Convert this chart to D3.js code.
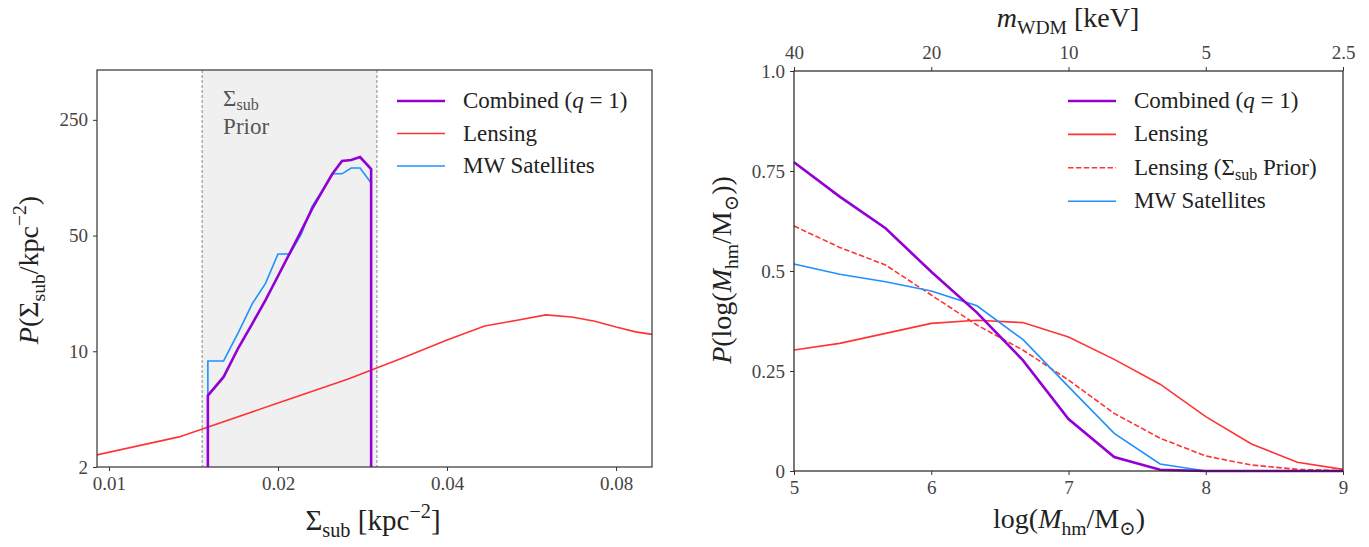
<!DOCTYPE html>
<html><head><meta charset="utf-8">
<script src="https://cdn.jsdelivr.net/npm/d3@7"></script>
<style>
body{margin:0;background:#fff}
text{font-family:"Liberation Serif","DejaVu Serif",serif;white-space:pre}
</style>
</head><body>
<svg id="c" width="1369" height="547"></svg>
<script>
// ---------------- DATA ----------------
// Left panel: P(Sigma_sub)
const priorRange = [0.01465, 0.0300];
const lensSigma = [0.00667, 0.01333, 0.02, 0.02667, 0.03333, 0.04, 0.04667, 0.05333, 0.06, 0.06667, 0.07333, 0.08, 0.08667, 0.09333];
const lensP     = [1.82, 3.04, 4.87, 6.8, 9.1, 11.7, 14.2, 15.4, 16.6, 16.1, 15.2, 14.0, 13.1, 12.6];
const satSigma  = [0.015, 0.016, 0.017, 0.018, 0.019, 0.020, 0.021, 0.022, 0.023, 0.024, 0.025, 0.026, 0.027, 0.028, 0.0293];
const satP      = [8.74, 8.74, 13.0, 19.4, 25.7, 38.7, 38.7, 51, 75, 94, 118, 118, 128, 128, 104];
const combSigma = [0.015, 0.016, 0.017, 0.018, 0.019, 0.020, 0.021, 0.022, 0.023, 0.024, 0.025, 0.026, 0.027, 0.028, 0.0293];
const combP     = [5.4, 7.0, 10.5, 14.7, 20.4, 28.5, 39.3, 53.3, 72.4, 93, 118, 141, 143, 149, 126];
const leftXTicks = [0.01, 0.02, 0.04, 0.08];
const leftYTicks = [2, 10, 50, 250];

// Right panel: P(log M_hm)
const logMhm      = [5, 5.333, 5.667, 6, 6.333, 6.667, 7, 7.333, 7.667, 8, 8.333, 8.667, 9];
const pCombined   = [0.772, 0.686, 0.607, 0.498, 0.396, 0.277, 0.130, 0.035, 0.003, 0.0, 0.0, 0.0, 0.0];
const pLensing    = [0.3025, 0.319, 0.344, 0.369, 0.377, 0.371, 0.335, 0.279, 0.217, 0.136, 0.0675, 0.022, 0.004];
const pLensPrior  = [0.6125, 0.559, 0.515, 0.44, 0.365, 0.3025, 0.2275, 0.144, 0.082, 0.0375, 0.015, 0.004, 0.001];
const pSatellites = [0.5175, 0.4917, 0.473, 0.45, 0.413, 0.329, 0.211, 0.094, 0.0175, 0.0, 0.0, 0.0, 0.0];
const rightXTicks = [5, 6, 7, 8, 9];
const rightYTicks = [0, 0.25, 0.5, 0.75, 1.0];
const rightYLabels = ["0", "0.25", "0.5", "0.75", "1.0"];
const mWdmTicks = [40, 20, 10, 5, 2.5];

// ---------------- STYLE ----------------
const C_PURPLE = "#9400d3", C_RED = "#ff3333", C_BLUE = "#1e90ff";
const FONT = '"Liberation Serif","DejaVu Serif",serif';
const svg = d3.select("#c");

// parts: strings or {t, i, sub, sup}
function mathText(g, parts, size, subShift) {
  const t = g.append("text").attr("font-size", size).attr("font-family", FONT);
  const ss = subShift == null ? 0.24 : subShift;
  let off = 0;
  parts.forEach(p => {
    const o = typeof p === "string" ? {t: p} : p;
    let target = 0, fs = size;
    if (o.sub) { target = size * ss; fs = size * 0.7; }
    if (o.sup) { target = -size * 0.42; fs = size * 0.7; }
    const ts = t.append("tspan").text(o.t).attr("font-size", fs).attr("dy", target - off);
    if (o.i) ts.attr("font-style", "italic");
    off = target;
  });
  return t;
}

function styleAxis(g) {
  g.select(".domain").remove();
  g.selectAll(".tick line").attr("stroke", "#333").attr("stroke-width", 1);
  g.selectAll(".tick text").attr("fill", "#444").attr("font-size", 19).attr("font-family", FONT);
}

// ---------------- LEFT PANEL ----------------
const L = {x0: 97, x1: 652, y0: 467, y1: 70};
const xL = d3.scaleLog().domain([0.00952, 0.0927]).range([L.x0, L.x1]);
const yL = d3.scaleLog().domain([2, 500]).range([L.y0, L.y1]);
const gL = svg.append("g");

svg.append("clipPath").attr("id", "clipL").append("rect")
  .attr("x", L.x0).attr("y", L.y1).attr("width", L.x1 - L.x0).attr("height", L.y0 - L.y1);

gL.append("rect").attr("x", xL(priorRange[0])).attr("y", L.y1)
  .attr("width", xL(priorRange[1]) - xL(priorRange[0])).attr("height", L.y0 - L.y1)
  .attr("fill", "#f0f0f0");
priorRange.forEach(v => gL.append("line").attr("x1", xL(v)).attr("x2", xL(v))
  .attr("y1", L.y1).attr("y2", L.y0).attr("stroke", "#888").attr("stroke-width", 1)
  .attr("stroke-dasharray", "3,2"));

const priorX = xL(priorRange[0]) + 21;
const priorG = gL.append("g").attr("fill", "#555");
mathText(priorG, ["Σ", {t: "sub", sub: true}], 23, 0.18).attr("x", priorX).attr("y", 106);
mathText(priorG, ["Prior"], 23).attr("x", priorX).attr("y", 134);

const lineL = d3.line().x(d => xL(d[0])).y(d => yL(d[1] > 0 ? d[1] : 0.5));
const plotL = gL.append("g").attr("clip-path", "url(#clipL)").attr("fill", "none");
plotL.append("path").datum(lensSigma.map((s, i) => [s, lensP[i]]))
  .attr("d", lineL).attr("stroke", C_RED).attr("stroke-width", 1.6);
const satPts = [[satSigma[0], 0], ...satSigma.map((s, i) => [s, satP[i]]), [satSigma[satSigma.length - 1], 0]];
plotL.append("path").datum(satPts).attr("d", lineL).attr("stroke", C_BLUE).attr("stroke-width", 1.6);
const combPts = [[combSigma[0], 0], ...combSigma.map((s, i) => [s, combP[i]]), [combSigma[combSigma.length - 1], 0]];
plotL.append("path").datum(combPts).attr("d", lineL).attr("stroke", C_PURPLE).attr("stroke-width", 2.6);

gL.append("rect").attr("x", L.x0).attr("y", L.y1).attr("width", L.x1 - L.x0).attr("height", L.y0 - L.y1)
  .attr("fill", "none").attr("stroke", "#333").attr("stroke-width", 1.2);

gL.append("g").attr("transform", `translate(0,${L.y0})`)
  .call(d3.axisBottom(xL).tickValues(leftXTicks).tickFormat(d => String(d)).tickSize(4).tickPadding(6))
  .call(styleAxis);
gL.append("g").attr("transform", `translate(${L.x0},0)`)
  .call(d3.axisLeft(yL).tickValues(leftYTicks).tickFormat(d => String(d)).tickSize(4).tickPadding(5))
  .call(styleAxis);

mathText(gL.append("g").attr("fill", "#222"), ["Σ", {t: "sub", sub: true}, " [kpc", {t: "−2", sup: true}, "]"], 29)
  .attr("text-anchor", "middle").attr("x", 373).attr("y", 530);
mathText(gL.append("g").attr("fill", "#222"),
  [{t: "P", i: true}, "(Σ", {t: "sub", sub: true}, "/kpc", {t: "−2", sup: true}, ")"], 28)
  .attr("text-anchor", "middle").attr("transform", "translate(38,270) rotate(-90)");

// legend left
const legL = [
  {parts: ["Combined (", {t: "q", i: true}, " = 1)"], c: C_PURPLE, w: 2.6},
  {parts: ["Lensing"], c: C_RED, w: 1.6},
  {parts: ["MW Satellites"], c: C_BLUE, w: 1.6}
];
legL.forEach((d, i) => {
  const y = 101 + i * 32.5;
  gL.append("line").attr("x1", 397).attr("x2", 445).attr("y1", y).attr("y2", y)
    .attr("stroke", d.c).attr("stroke-width", d.w);
  mathText(gL.append("g").attr("fill", "#222"), d.parts, 23).attr("x", 463).attr("y", y + 7);
});

// ---------------- RIGHT PANEL ----------------
const R = {x0: 794, x1: 1343, y0: 471, y1: 71};
const xR = d3.scaleLinear().domain([5, 9]).range([R.x0, R.x1]);
const yR = d3.scaleLinear().domain([0, 1]).range([R.y0, R.y1]);
const xTop = d3.scaleLog().domain([40, 2.5]).range([R.x0, R.x1]);
const gR = svg.append("g");

const lineR = d3.line().x(d => xR(d[0])).y(d => yR(d[1]));
const series = [
  {v: pLensing, c: C_RED, w: 1.6, dash: null},
  {v: pLensPrior, c: C_RED, w: 1.6, dash: "5.5,2.4"},
  {v: pSatellites, c: C_BLUE, w: 1.6, dash: null},
  {v: pCombined, c: C_PURPLE, w: 2.6, dash: null}
];
series.forEach(s => {
  gR.append("path").datum(logMhm.map((x, i) => [x, s.v[i]])).attr("d", lineR)
    .attr("fill", "none").attr("stroke", s.c).attr("stroke-width", s.w)
    .attr("stroke-dasharray", s.dash);
});

gR.append("rect").attr("x", R.x0).attr("y", R.y1).attr("width", R.x1 - R.x0).attr("height", R.y0 - R.y1)
  .attr("fill", "none").attr("stroke", "#222").attr("stroke-width", 1.2);

gR.append("g").attr("transform", `translate(0,${R.y0})`)
  .call(d3.axisBottom(xR).tickValues(rightXTicks).tickFormat(d => String(d)).tickSize(4).tickPadding(6))
  .call(styleAxis);
gR.append("g").attr("transform", `translate(${R.x0},0)`)
  .call(d3.axisLeft(yR).tickValues(rightYTicks).tickFormat((d, i) => rightYLabels[i]).tickSize(4).tickPadding(5))
  .call(styleAxis);
gR.append("g").attr("transform", `translate(0,${R.y1})`)
  .call(d3.axisTop(xTop).tickValues(mWdmTicks).tickFormat(d => String(d)).tickSize(4).tickPadding(8))
  .call(styleAxis);

mathText(gR.append("g").attr("fill", "#222"),
  ["log(", {t: "M", i: true}, {t: "hm", sub: true}, "/M", {t: "⊙", sub: true}, ")"], 28)
  .attr("text-anchor", "middle").attr("x", 1069).attr("y", 528);
mathText(gR.append("g").attr("fill", "#222"),
  [{t: "P", i: true}, "(log(", {t: "M", i: true}, {t: "hm", sub: true}, "/M", {t: "⊙", sub: true}, "))"], 28)
  .attr("text-anchor", "middle").attr("transform", "translate(731,270) rotate(-90)");
mathText(gR.append("g").attr("fill", "#222"),
  [{t: "m", i: true}, {t: "WDM", sub: true}, " [keV]"], 28)
  .attr("text-anchor", "middle").attr("x", 1068).attr("y", 27);

const legR = [
  {parts: ["Combined (", {t: "q", i: true}, " = 1)"], c: C_PURPLE, w: 2.6, dash: null},
  {parts: ["Lensing"], c: C_RED, w: 1.6, dash: null},
  {parts: ["Lensing (Σ", {t: "sub", sub: true}, " Prior)"], c: C_RED, w: 1.6, dash: "5.5,2.4"},
  {parts: ["MW Satellites"], c: C_BLUE, w: 1.6, dash: null}
];
legR.forEach((d, i) => {
  const y = 101 + i * 33.4;
  gR.append("line").attr("x1", 1068).attr("x2", 1116).attr("y1", y).attr("y2", y)
    .attr("stroke", d.c).attr("stroke-width", d.w).attr("stroke-dasharray", d.dash);
  mathText(gR.append("g").attr("fill", "#222"), d.parts, 23).attr("x", 1134).attr("y", y + 7);
});
</script>
</body></html>
